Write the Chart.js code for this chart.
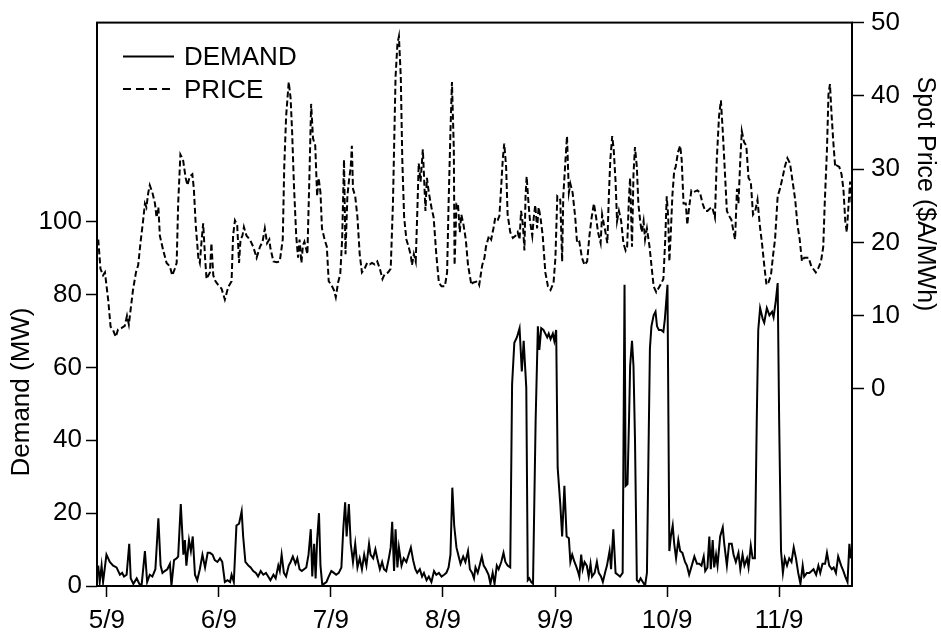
<!DOCTYPE html>
<html>
<head>
<meta charset="utf-8">
<script src="https://cdn.jsdelivr.net/npm/chart.js@4/dist/chart.umd.min.js"></script>
<style>
  html, body { margin: 0; padding: 0; background: #fff; }
  #wrap { width: 941px; height: 635px; }
</style>
</head>
<body>
<div id="wrap"><canvas id="c" width="941" height="635"></canvas></div>
<script>
// ---- data (x in days from the 5/9 tick) ----
const tickPositions = [0, 30, 60, 90, 120, 150, 180];
const tickLabels = ['5/9', '6/9', '7/9', '8/9', '9/9', '10/9', '11/9'];
const demandTicks = [0, 20, 40, 60, 80, 100];
const priceTicks = [0, 10, 20, 30, 40, 50];

const priceX = [-2.3,-1.7,-1.0,-0.5,0.4,1.0,1.7,2.4,3.0,3.9,4.8,5.4,5.9,6.3,7.0,7.8,8.4,9.0,9.7,10.2,10.6,11.1,11.5,12.2,12.9,13.3,13.8,14.2,15.1,16.0,16.9,17.5,18.2,18.7,19.1,19.7,20.4,21.1,21.6,22.2,22.9,23.3,23.8,24.5,24.9,25.4,25.8,26.3,26.7,27.6,28.0,28.5,29.1,29.8,30.7,31.6,32.5,33.4,33.8,34.3,34.9,35.4,35.8,36.3,36.7,37.4,38.3,39.2,40.1,41.0,41.7,42.3,42.9,43.5,43.8,44.6,45.5,46.3,47.1,47.5,48.0,
48.7,49.2,49.6,50.1,50.7,51.2,51.6,52.1,52.5,52.9,53.7,54.3,54.7,55.2,55.8,56.3,56.7,57.2,57.6,58.3,58.9,59.4,60.1,60.8,61.3,61.9,62.5,63.0,63.5,63.9,64.4,64.8,65.3,65.6,65.9,66.5,67.1,67.7,68.3,69.0,69.7,70.4,71.0,71.7,72.4,73.1,73.8,74.4,75.3,76.0,76.6,77.3,77.8,78.2,78.7,79.1,79.6,80.2,80.8,81.4,81.7,82.2,82.7,83.1,83.5,84.0,84.6,84.9,85.3,85.7,86.2,86.9,87.5,88.2,88.9,89.6,90.5,91.1,91.5,92.0,92.4,92.9,93.1,93.6,94.0,94.5,94.9,95.5,96.1,96.7,97.6,
98.0,99.3,99.7,100.5,101.1,101.5,102.3,102.9,103.5,104.0,104.7,105.1,105.6,106.0,106.4,106.9,107.3,108.0,108.7,109.4,110.0,110.5,110.9,111.4,111.8,112.1,112.4,112.9,113.3,113.9,114.3,114.7,115.2,115.6,116.1,116.7,117.4,118.1,118.8,119.6,120.1,120.6,121.0,121.4,121.9,122.2,122.8,123.2,123.7,124.1,124.7,125.4,125.9,126.5,127.2,127.9,128.6,129.2,129.8,130.4,131.0,131.5,132.2,132.6,133.1,133.5,134.0,134.4,134.8,135.3,135.7,136.2,136.6,137.1,137.7,138.3,138.9,139.3,139.8,140.1,140.6,141.0,141.4,141.9,142.3,142.8,143.2,143.7,144.1,144.6,145.3,145.9,146.4,147.1,148.0,
149.0,149.5,149.9,150.3,150.6,151.0,151.4,151.9,152.3,152.9,153.5,153.9,154.4,155.0,155.4,155.9,156.5,157.2,158.1,158.8,159.5,160.2,160.8,161.4,162.1,162.8,163.3,163.9,164.4,164.9,165.4,166.0,166.6,167.2,167.8,168.2,168.7,169.1,169.6,170.0,170.6,171.2,171.8,172.4,173.0,173.6,174.2,174.8,175.4,176.0,176.6,177.1,177.8,178.4,178.9,179.6,180.2,180.9,181.5,182.2,182.9,183.6,184.3,184.9,185.5,186.1,186.7,187.3,187.9,188.5,189.1,189.8,190.4,191.2,191.8,192.2,192.8,193.2,193.6,194.0,194.5,195.0,195.4,196.1,196.7,197.2,197.7,198.1,198.6,199.0,199.4];
const priceY = [20.4,16.4,15.5,15.9,12.0,8.5,8.0,7.1,8.1,8.3,8.6,10.0,8.8,10.5,13.5,15.9,16.9,19.9,22.9,25.3,24.8,26.8,27.8,26.8,25.3,23.4,24.8,20.9,18.9,17.2,16.7,15.5,16.4,17.2,25.3,32.0,31.3,28.8,27.8,29.0,29.3,27.3,22.4,17.9,17.2,20.4,22.6,17.9,15.0,15.9,19.9,15.5,14.7,14.2,13.7,12.2,13.9,14.7,20.9,23.0,22.4,17.2,20.4,20.9,22.1,20.9,20.4,19.4,17.9,19.4,20.1,21.9,19.9,20.4,19.2,17.4,17.3,17.4,20.4,30.3,37.2,
41.9,39.7,35.2,27.8,20.9,17.9,20.4,17.2,19.6,20.1,18.4,30.3,38.9,34.2,33.2,26.3,28.8,26.8,21.9,20.4,19.4,14.7,14.2,13.5,12.5,14.5,15.7,20.4,31.3,18.4,26.3,28.3,30.3,33.2,27.3,26.3,23.4,18.4,15.9,16.4,17.2,17.0,17.2,17.0,17.4,16.4,15.0,15.7,15.9,16.4,25.3,42.6,47.1,48.1,42.6,31.3,23.4,20.4,19.4,18.2,16.9,18.4,17.4,23.8,30.8,28.3,32.7,29.3,24.3,28.8,26.8,24.8,23.4,18.4,14.5,14.0,14.0,15.9,25.3,35.2,41.9,32.7,16.9,25.3,25.3,21.4,23.8,22.4,20.4,16.9,14.2,
14.5,14.7,14.2,16.9,17.9,19.4,20.9,20.4,21.9,23.4,23.1,23.6,27.8,31.3,33.5,30.3,23.8,21.4,20.6,20.9,21.4,20.4,24.3,22.4,18.9,26.3,29.0,25.3,22.9,20.9,23.4,25.1,21.9,24.8,23.4,20.9,15.9,14.0,13.5,14.5,17.9,26.3,26.1,25.8,17.4,26.3,31.3,34.5,26.8,28.0,26.8,23.4,19.9,20.1,17.9,16.9,17.4,20.9,23.4,25.3,23.4,21.4,19.9,23.8,22.4,21.4,19.9,26.3,31.3,34.5,32.7,28.3,22.9,24.3,22.9,19.9,18.9,19.4,26.3,28.8,19.4,29.3,33.0,30.3,25.3,22.9,21.4,22.9,20.4,21.9,19.4,16.4,14.0,13.2,14.0,
15.0,20.4,26.3,23.4,17.4,21.4,26.3,29.8,30.3,32.3,33.2,31.3,25.3,25.3,22.4,24.8,27.1,26.9,27.1,26.8,25.3,24.3,24.3,24.6,24.8,23.4,31.3,37.2,39.4,35.2,30.3,24.3,23.6,23.1,21.4,20.4,27.3,25.3,31.3,35.2,33.7,33.2,28.8,28.3,23.8,24.3,25.8,22.4,19.9,16.9,14.2,14.5,15.5,18.4,20.4,26.3,27.3,28.8,30.3,31.5,30.8,28.3,25.8,22.4,20.4,17.4,17.9,17.9,17.9,16.9,16.4,15.9,16.4,17.4,19.4,25.3,32.7,40.2,41.6,37.7,33.7,30.3,30.5,30.3,29.3,27.3,22.9,21.4,25.3,28.3,25.3];

const demandX = [-2.3,-1.9,-1.4,-1.0,-0.1,0.8,1.7,2.6,3.5,4.1,4.6,5.3,6.0,6.4,7.1,8.0,8.7,9.3,10.2,10.8,11.5,12.2,13.0,13.8,14.4,14.9,15.5,16.2,16.9,17.3,18.0,18.7,19.1,19.8,20.5,20.9,21.3,22.0,22.5,23.0,23.6,24.2,24.9,25.6,26.3,27.0,27.6,28.3,28.9,29.6,30.3,30.9,31.6,32.3,33.0,33.4,34.0,34.7,35.4,36.1,36.5,37.1,37.9,38.5,39.2,39.9,40.5,41.2,41.9,42.6,43.2,43.8,44.6,45.2,45.9,46.3,46.8,47.4,48.0,
48.7,49.2,49.8,50.5,51.0,51.6,52.2,52.8,53.4,54.0,54.6,55.0,55.5,55.9,56.3,56.8,57.2,57.7,58.1,58.8,59.4,60.1,60.8,61.4,62.1,62.8,63.3,63.8,64.2,64.8,65.3,65.9,66.5,67.1,67.7,68.3,68.9,69.5,70.2,70.6,71.3,71.9,72.4,73.1,73.7,74.2,74.8,75.5,76.0,76.4,76.9,77.3,77.8,78.2,78.9,79.5,80.2,80.8,81.4,82.0,82.6,83.1,83.8,84.4,84.9,85.6,86.2,86.9,87.6,88.2,88.9,89.6,90.3,90.9,91.5,92.0,92.5,93.0,93.6,94.2,94.7,95.4,96.0,96.7,97.2,97.8,98.3,
98.7,99.3,99.8,100.4,100.9,101.5,102.2,102.7,103.3,103.8,104.4,104.9,105.6,106.2,106.7,107.3,108.0,108.5,109.1,109.8,110.5,111.1,111.6,112.3,112.7,113.1,113.6,114.1,114.8,115.4,115.8,116.3,116.9,117.4,117.9,118.3,118.8,119.4,119.8,120.3,120.7,121.4,121.9,122.5,123.1,123.7,124.1,124.6,125.2,125.6,126.1,126.5,127.0,127.4,127.9,128.5,129.0,129.5,129.9,130.6,131.2,131.7,132.3,132.8,133.5,133.9,134.6,135.0,135.6,136.2,136.8,137.4,138.1,138.6,138.9,139.4,139.8,140.1,140.6,141.0,141.4,141.9,142.4,142.9,143.5,144.1,144.6,145.0,145.4,145.8,146.4,146.9,147.3,147.8,148.4,
149.0,149.4,150.1,150.6,151.0,151.5,151.9,152.4,153.0,153.5,154.1,154.8,155.3,155.9,156.6,157.3,158.0,158.6,159.2,159.8,160.2,160.8,161.3,161.7,162.2,162.6,163.1,163.5,164.2,164.9,165.3,166.0,166.6,167.3,167.8,168.4,169.1,169.6,170.2,170.7,171.4,171.8,172.4,172.9,173.5,174.0,174.4,174.9,175.6,176.0,176.7,177.4,178.1,178.5,179.1,179.6,180.0,180.5,181.0,181.5,182.1,182.7,183.3,183.9,184.5,185.1,185.7,186.3,186.7,187.4,188.1,188.7,189.2,189.9,190.5,191.0,191.6,192.3,192.8,193.4,194.1,194.6,195.2,195.8,196.6,197.2,197.7,198.3,198.8,199.2];
const demandY = [5.6,1.1,5.6,1.1,8.6,6.6,5.6,5.1,3.1,3.6,2.6,3.1,11.6,2.1,0.6,2.1,0.6,0.1,9.6,1.1,3.1,2.6,4.6,18.6,5.6,3.6,4.1,4.6,6.1,0.1,7.1,7.6,8.1,22.5,8.6,12.6,5.6,12.6,9.6,13.6,3.1,1.6,4.6,8.6,5.1,9.1,9.1,8.6,7.1,6.6,7.6,6.6,1.1,1.6,1.1,3.1,1.1,16.6,17.1,20.5,13.6,6.6,5.6,5.1,4.1,3.6,2.6,4.1,3.1,3.6,2.6,1.6,3.1,2.1,5.6,4.1,8.6,3.6,2.6,
5.6,6.6,8.1,6.1,7.6,4.6,4.1,4.6,5.1,8.6,15.6,2.6,11.6,2.1,12.6,20.0,5.6,0.1,0.6,1.1,2.6,4.1,3.6,3.1,3.6,5.1,15.6,23.0,13.6,22.5,11.6,6.6,11.6,5.1,7.6,4.6,8.6,5.6,11.6,8.6,7.6,10.1,7.6,4.6,6.6,4.6,4.1,7.6,10.6,17.6,4.1,15.6,5.1,10.6,5.6,7.6,6.6,8.6,10.6,7.1,4.6,3.6,4.6,2.6,3.6,1.6,2.6,1.1,4.1,3.1,3.6,2.6,3.1,3.6,5.1,8.6,27.0,16.6,10.6,8.1,6.1,8.1,6.6,9.6,4.6,3.6,2.1,
5.1,3.6,5.6,8.1,5.6,4.6,3.1,0.6,3.6,0.6,5.6,4.6,6.6,9.1,6.6,5.6,5.1,55.4,66.8,68.3,70.8,58.9,67.3,54.4,1.6,2.1,1.1,0.6,45.4,71.3,64.8,70.8,70.3,69.3,68.3,69.3,67.8,69.3,67.3,70.3,32.5,22.5,13.6,27.5,13.6,13.1,6.6,8.6,6.6,5.6,4.1,2.6,8.6,4.6,6.6,5.6,2.6,6.1,2.6,3.6,6.6,3.6,2.6,1.1,4.1,5.6,9.6,4.6,15.6,3.6,3.1,2.6,3.6,82.7,27.5,28.0,45.4,60.4,67.3,60.4,40.4,1.6,1.1,2.1,1.1,0.1,3.6,35.5,65.3,71.3,74.3,75.3,71.3,70.3,70.3,
69.8,73.3,82.7,9.6,13.6,16.6,11.6,7.6,12.6,9.6,9.1,6.6,5.6,3.1,5.6,8.1,6.1,6.1,5.6,8.1,4.1,5.1,13.6,4.6,12.6,5.1,8.6,5.6,13.6,16.1,11.6,5.6,11.6,11.6,8.6,6.6,9.1,4.6,8.6,5.6,7.6,5.1,11.1,7.6,7.6,45.4,70.3,76.3,73.3,72.3,76.3,74.3,75.3,73.8,78.3,83.2,45.4,9.6,3.6,7.6,5.6,7.6,6.6,10.6,7.6,3.6,0.6,5.6,2.6,3.6,3.6,4.1,4.6,3.1,5.6,3.6,6.1,6.1,9.1,5.6,4.6,5.1,3.6,8.1,5.6,4.1,2.6,1.1,11.6,7.6];

// ---- chart ----
const FONT = '"Liberation Sans", Arial, sans-serif';
Chart.defaults.font.family = FONT;
Chart.defaults.font.size = 26;
Chart.defaults.color = '#000';

const toPts = (xs, ys) => xs.map((x, i) => ({ x: x, y: ys[i] }));

const overlay = {
  id: 'overlay',
  beforeDraw(chart) {
    const ctx = chart.ctx;
    ctx.save();
    ctx.fillStyle = '#fff';
    ctx.fillRect(0, 0, chart.width, chart.height);
    ctx.restore();
  },
  afterDraw(chart) {
    const ctx = chart.ctx;
    const a = chart.chartArea;
    ctx.save();
    ctx.strokeStyle = '#000';
    ctx.lineWidth = 2;
    ctx.setLineDash([]);
    ctx.strokeRect(a.left, a.top, a.right - a.left, a.bottom - a.top);

    // legend
    ctx.fillStyle = '#000';
    ctx.font = '26px ' + FONT;
    ctx.textAlign = 'left';
    ctx.textBaseline = 'alphabetic';
    ctx.beginPath();
    ctx.moveTo(a.left + 26, 56.5); ctx.lineTo(a.left + 77, 56.5);
    ctx.stroke();
    ctx.fillText('DEMAND', a.left + 87, 65);
    ctx.setLineDash([8, 5]);
    ctx.beginPath();
    ctx.moveTo(a.left + 26, 89); ctx.lineTo(a.left + 77, 89);
    ctx.stroke();
    ctx.setLineDash([]);
    ctx.fillText('PRICE', a.left + 87, 98);

    // axis titles
    ctx.textAlign = 'center';
    ctx.textBaseline = 'middle';
    ctx.save();
    ctx.translate(22, 392);
    ctx.rotate(-Math.PI / 2);
    ctx.fillText('Demand (MW)', 0, 0);
    ctx.restore();
    ctx.save();
    ctx.font = '25px ' + FONT;
    ctx.translate(925, 194);
    ctx.rotate(Math.PI / 2);
    ctx.fillText('Spot Price ($A/MWh)', 0, 0);
    ctx.restore();
    ctx.restore();
  }
};

new Chart(document.getElementById('c'), {
  type: 'line',
  data: {
    datasets: [
      {
        label: 'DEMAND',
        data: toPts(demandX, demandY),
        yAxisID: 'y',
        borderColor: '#000',
        borderWidth: 2,
        pointRadius: 0,
        tension: 0,
        fill: false
      },
      {
        label: 'PRICE',
        data: toPts(priceX, priceY),
        yAxisID: 'y1',
        borderColor: '#000',
        borderWidth: 2,
        borderDash: [6, 3],
        pointRadius: 0,
        tension: 0,
        fill: false
      }
    ]
  },
  options: {
    responsive: false,
    animation: false,
    parsing: true,
    layout: { padding: { top: 20, left: 0, right: 0, bottom: 0 } },
    plugins: { legend: { display: false }, tooltip: { enabled: false }, title: { display: false } },
    scales: {
      x: {
        type: 'linear',
        position: 'bottom',
        min: -2.63,
        max: 199.5,
        afterBuildTicks: s => { s.ticks = tickPositions.map(v => ({ value: v })); },
        afterFit: s => { s.height = 49; },
        ticks: {
          autoSkip: false, maxRotation: 0, padding: 8,
          callback: v => tickLabels[tickPositions.indexOf(v)] ?? ''
        },
        grid: { drawOnChartArea: false, drawTicks: true, tickLength: 11, color: '#000', tickWidth: 1.5 },
        border: { display: false }
      },
      y: {
        type: 'linear',
        position: 'left',
        min: 0,
        max: 154.7,
        afterBuildTicks: s => { s.ticks = demandTicks.map(v => ({ value: v })); },
        afterFit: s => { s.width = 97; },
        ticks: { padding: 4 },
        grid: { drawOnChartArea: false, drawTicks: true, tickLength: 11, color: '#000', tickWidth: 1.5 },
        border: { display: false }
      },
      y1: {
        type: 'linear',
        position: 'right',
        min: -26.9,
        max: 50,
        afterBuildTicks: s => { s.ticks = priceTicks.map(v => ({ value: v })); },
        afterFit: s => { s.width = 89; },
        ticks: { padding: 7 },
        grid: { drawOnChartArea: false, drawTicks: true, tickLength: 12, color: '#000', tickWidth: 1.5 },
        border: { display: false }
      }
    }
  },
  plugins: [overlay]
});
</script>
</body>
</html>
